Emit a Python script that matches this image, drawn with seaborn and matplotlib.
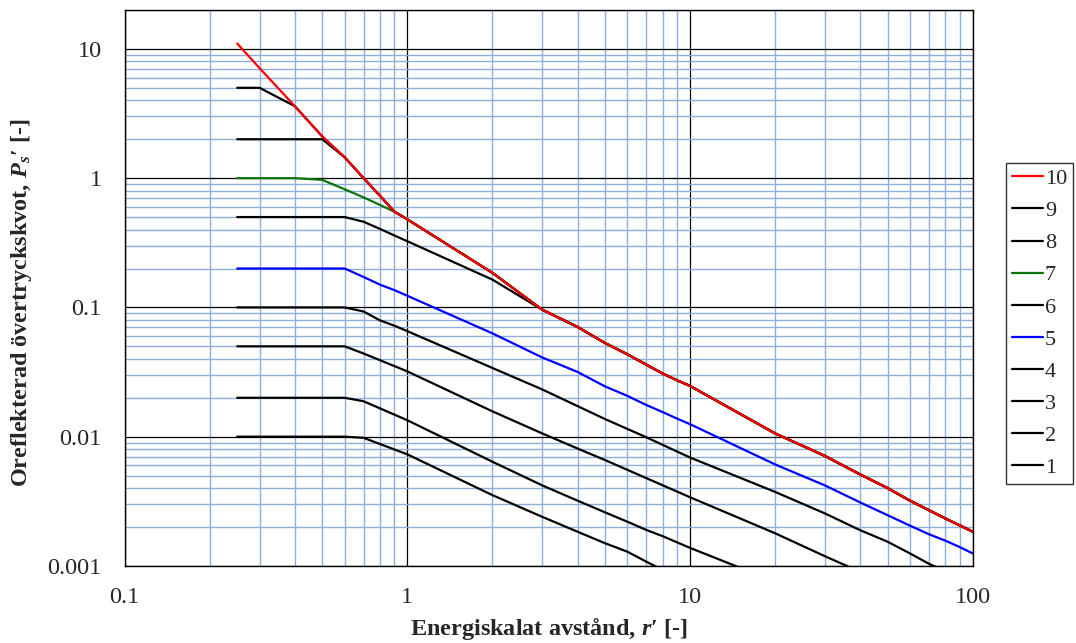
import numpy as np
import pandas as pd
import matplotlib.pyplot as plt
import matplotlib.ticker as mticker
import seaborn as sns

# values (r' vs P_s')
r_red = [0.25, 0.3, 0.4, 0.5, 0.6, 0.7, 0.8, 0.9, 1, 2, 3, 4, 5, 6, 7, 8, 9, 10,
         20, 30, 40, 50, 60, 70, 80, 90, 100]
p_red = [11.0, 7.1, 3.6, 2.1, 1.45, 1.0, 0.73, 0.55, 0.48, 0.185, 0.096, 0.0706,
         0.0531, 0.0434, 0.0361, 0.0308, 0.0273, 0.0247, 0.0106, 0.0071, 0.0051,
         0.0040, 0.0032, 0.0027, 0.00233, 0.00206, 0.00184]

r_9 = [0.25, 0.3, 0.4]
p_9 = [5, 5, 3.6]
r_8 = [0.25, 0.5]
p_8 = [2, 2]
r_7 = [0.25, 0.4, 0.5, 0.6, 0.7, 0.8]
p_7 = [1, 1, 0.97, 0.82, 0.71, 0.62]
r_6 = [0.25, 0.6, 0.7, 0.8, 0.9, 1, 2]
p_6 = [0.5, 0.5, 0.46, 0.405, 0.36, 0.325, 0.164]

r_5 = [0.25, 0.6, 0.7, 0.8, 0.9, 1, 2, 3, 4, 5, 6, 7, 8, 9, 10,
       20, 30, 40, 50, 60, 70, 80, 90, 100]
p_5 = [0.2, 0.2, 0.172, 0.150, 0.136, 0.123, 0.063, 0.041, 0.0317, 0.0245,
       0.0207, 0.0176, 0.0155, 0.0138, 0.0125, 0.0061, 0.0042, 0.0031, 0.00247,
       0.00205, 0.00176, 0.00157, 0.0014, 0.00125]

r_4 = [0.25, 0.6, 0.7, 0.8, 0.9, 1, 2, 3, 5, 7, 10, 20, 30, 40, 50, 60, 70, 80]
p_4 = [0.1, 0.1, 0.093, 0.0794, 0.0722, 0.0655, 0.034, 0.0232, 0.0137, 0.0099,
       0.0069, 0.00374, 0.00255, 0.00189, 0.00154, 0.00125, 0.00104, 0.00091]

r_3 = [0.25, 0.6, 0.7, 1, 2, 3, 4, 5, 10, 20, 30, 40]
p_3 = [0.05, 0.05, 0.044, 0.0320, 0.0157, 0.0106, 0.0081, 0.0066, 0.0034,
       0.00179, 0.00119, 0.00090]

r_2 = [0.25, 0.6, 0.7, 1, 2, 3, 4, 5, 6, 7, 8, 10, 15]
p_2 = [0.02, 0.02, 0.0188, 0.0134, 0.0064, 0.0042, 0.0032, 0.0026, 0.0022,
       0.0019, 0.0017, 0.00138, 0.00097]

r_1 = [0.25, 0.6, 0.7, 1, 2, 3, 4, 5, 6, 7, 8]
p_1 = [0.01, 0.01, 0.0098, 0.0073, 0.00353, 0.0024, 0.00184, 0.0015, 0.00129,
       0.00108, 0.00093]

x_ticks = [0.1, 1, 10, 100]
y_ticks = [0.001, 0.01, 0.1, 1, 10]

# curves that run into the red envelope follow it afterwards
def join_red(r, p):
    start = r[-1]
    tail = [(a, b) for a, b in zip(r_red, p_red) if a > start]
    return r + [a for a, b in tail], p + [b for a, b in tail]

r_9, p_9 = join_red(r_9, p_9)
r_8, p_8 = join_red(r_8, p_8)
r_7, p_7 = join_red(r_7, p_7)
r_6, p_6 = join_red(r_6, p_6)

curves = [("1", r_1, p_1, "black"),
          ("2", r_2, p_2, "black"),
          ("3", r_3, p_3, "black"),
          ("4", r_4, p_4, "black"),
          ("5", r_5, p_5, "#0000ff"),
          ("6", r_6, p_6, "black"),
          ("7", r_7, p_7, "#0a730a"),
          ("8", r_8, p_8, "black"),
          ("9", r_9, p_9, "black"),
          ("10", r_red, p_red, "#ff0000")]

sns.set_style("white")
plt.rcParams["font.family"] = ["Liberation Serif", "DejaVu Serif"]
plt.rcParams["mathtext.fontset"] = "custom"
plt.rcParams["mathtext.rm"] = "Liberation Serif"
plt.rcParams["mathtext.it"] = "Liberation Serif:italic"
plt.rcParams["mathtext.bf"] = "Liberation Serif:bold"
plt.rcParams["mathtext.bfit"] = "Liberation Serif:bold:italic"

fig = plt.figure(figsize=(10.76, 6.43), dpi=100)
ax = fig.add_axes([0.1159, 0.1198, 0.7881, 0.8647])

for name, r, p, col in curves:
    df = pd.DataFrame({"r": r, "p": p})
    sns.lineplot(data=df, x="r", y="p", color=col, lw=1.6, ax=ax, label=name,
                 sort=False, estimator=None)

if ax.get_legend() is not None:
    ax.get_legend().remove()

ax.set_xscale("log")
ax.set_yscale("log")
ax.set_xlim(0.1, 100)
ax.set_ylim(0.001, 20)

ax.xaxis.set_major_locator(mticker.FixedLocator(x_ticks))
ax.yaxis.set_major_locator(mticker.FixedLocator(y_ticks))
ax.xaxis.set_major_formatter(mticker.FixedFormatter(["%g" % v for v in x_ticks]))
ax.yaxis.set_major_formatter(mticker.FixedFormatter(["%g" % v for v in y_ticks]))
ax.xaxis.set_minor_locator(mticker.LogLocator(base=10, subs=np.arange(2, 10)))
ax.yaxis.set_minor_locator(mticker.LogLocator(base=10, subs=np.arange(2, 10)))
ax.xaxis.set_minor_formatter(mticker.NullFormatter())
ax.yaxis.set_minor_formatter(mticker.NullFormatter())

ax.grid(True, which="minor", color="#8eaedb", lw=1.0)
ax.grid(True, which="major", color="black", lw=0.9)
ax.set_axisbelow(True)

ax.tick_params(which="major", direction="inout", length=9, width=1, color="black",
               labelsize=17.5)
ax.tick_params(axis="y", pad=12)
ax.tick_params(axis="x", pad=11)
ax.tick_params(which="minor", length=0)
for s in ax.spines.values():
    s.set_color("black")
    s.set_linewidth(1.0)

ax.set_xlabel("Energiskalat avstånd, $\\mathbfit{r}$′ [-]", fontsize=17.5,
              fontweight="bold")
ax.set_ylabel("Oreflekterad övertryckskvot, $\\mathbfit{P}_{\\mathbfit{s}}$′ [-]",
              fontsize=17.5, fontweight="bold")
ax.xaxis.set_label_coords(0.5, -0.09)
ax.yaxis.set_label_coords(-0.107, 0.473)

handles, labels = ax.get_legend_handles_labels()
leg = fig.legend(handles[::-1], labels[::-1], loc="upper left",
                 bbox_to_anchor=(1006 / 1076, 1 - 163 / 643), fontsize=16,
                 frameon=True, fancybox=False, shadow=False, borderaxespad=0,
                 handlelength=1.4, handletextpad=0.1, borderpad=0.25,
                 labelspacing=0.52)
leg.get_frame().set_edgecolor("black")
leg.get_frame().set_linewidth(1.0)

fig.savefig("out.png", dpi=100)
